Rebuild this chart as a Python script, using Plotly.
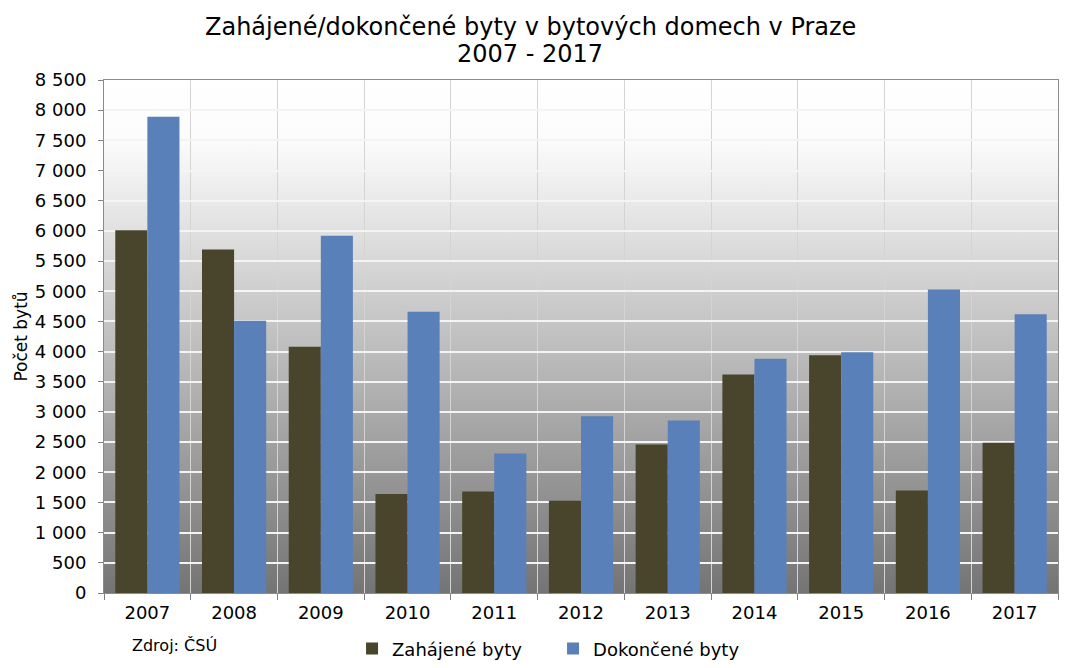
import base64
import plotly.graph_objects as go

years = ["2007", "2008", "2009", "2010", "2011", "2012", "2013", "2014", "2015", "2016", "2017"]
zahajene = [6010, 5690, 4080, 1640, 1680, 1530, 2460, 3620, 3940, 1700, 2490]
dokoncene = [7890, 4510, 5920, 4660, 2310, 2930, 2860, 3880, 3990, 5030, 4620]

title_line1 = "Zahájené/dokončené byty v bytových domech v Praze"
title_line2 = "2007 - 2017"

FONT = "DejaVu Sans"

svg = ("<svg xmlns='http://www.w3.org/2000/svg' width='100' height='100' viewBox='0 0 100 100' "
       "preserveAspectRatio='none'><defs><linearGradient id='g' x1='0' y1='0' x2='0' y2='1'>"
       "<stop offset='0' stop-color='#ffffff'/><stop offset='0.12' stop-color='#fbfbfb'/>"
       "<stop offset='1' stop-color='#747474'/></linearGradient></defs>"
       "<rect width='100' height='100' fill='url(#g)'/></svg>")
src = "data:image/svg+xml;base64," + base64.b64encode(svg.encode()).decode()

fig = go.Figure()
fig.add_trace(go.Bar(x=years, y=zahajene, name="Zahájené byty", marker_color="#49452c",
                     marker_line_width=0))
fig.add_trace(go.Bar(x=years, y=dokoncene, name="Dokončené byty", marker_color="#5a80b9",
                     marker_line_width=0))

title_font = dict(family=FONT, size=24, color="black")
fig.update_layout(
    width=1078, height=668,
    margin=dict(l=104, r=20, t=80, b=75, autoexpand=False),
    paper_bgcolor="white",
    plot_bgcolor="rgba(0,0,0,0)",
    separators=", ",
    barmode="group", bargap=0.26, bargroupgap=0,
    font=dict(family=FONT, size=18, color="black"),
    images=[dict(source=src, xref="paper", yref="paper", x=0, y=1, sizex=1, sizey=1,
                 xanchor="left", yanchor="top", sizing="stretch", layer="below")],
    legend=dict(orientation="h", x=0.26, xanchor="left", y=-0.109, yanchor="middle",
                font=dict(family=FONT, size=18), itemwidth=30, traceorder="normal",
                entrywidth=156, entrywidthmode="pixels",
                bgcolor="rgba(0,0,0,0)"),
    annotations=[
        dict(text=title_line1, xref="paper", yref="paper", x=0.447, y=1.103,
             xanchor="center", yanchor="middle", showarrow=False, font=title_font),
        dict(text=title_line2, xref="paper", yref="paper", x=0.447, y=1.051,
             xanchor="center", yanchor="middle", showarrow=False, font=title_font),
        dict(text="Zdroj: ČSÚ", xref="paper", yref="paper", x=0.027, y=-0.102,
             xanchor="left", yanchor="middle", showarrow=False,
             font=dict(family=FONT, size=16, color="black")),
    ],
)
fig.update_xaxes(type="category", tickson="boundaries", ticks="outside", ticklen=6,
                 tickcolor="#808080", showgrid=True, gridcolor="#d4d4d4", gridwidth=1,
                 showline=True, linecolor="#8c8c8c", mirror=True, automargin=False,
                 ticklabelstandoff=3,
                 tickfont=dict(family=FONT, size=18))
fig.update_yaxes(range=[0, 8500], dtick=500, tickformat=",d", ticks="outside", ticklen=5,
                 tickcolor="#808080", showgrid=True, gridcolor="#f4f4f4", gridwidth=1.5,
                 showline=True, linecolor="#8c8c8c", mirror=True, zeroline=False,
                 automargin=False, ticklabelstandoff=8,
                 tickfont=dict(family=FONT, size=18),
                 title=dict(text="Počet bytů", font=dict(family=FONT, size=17), standoff=2))

fig.write_html("out.html")
